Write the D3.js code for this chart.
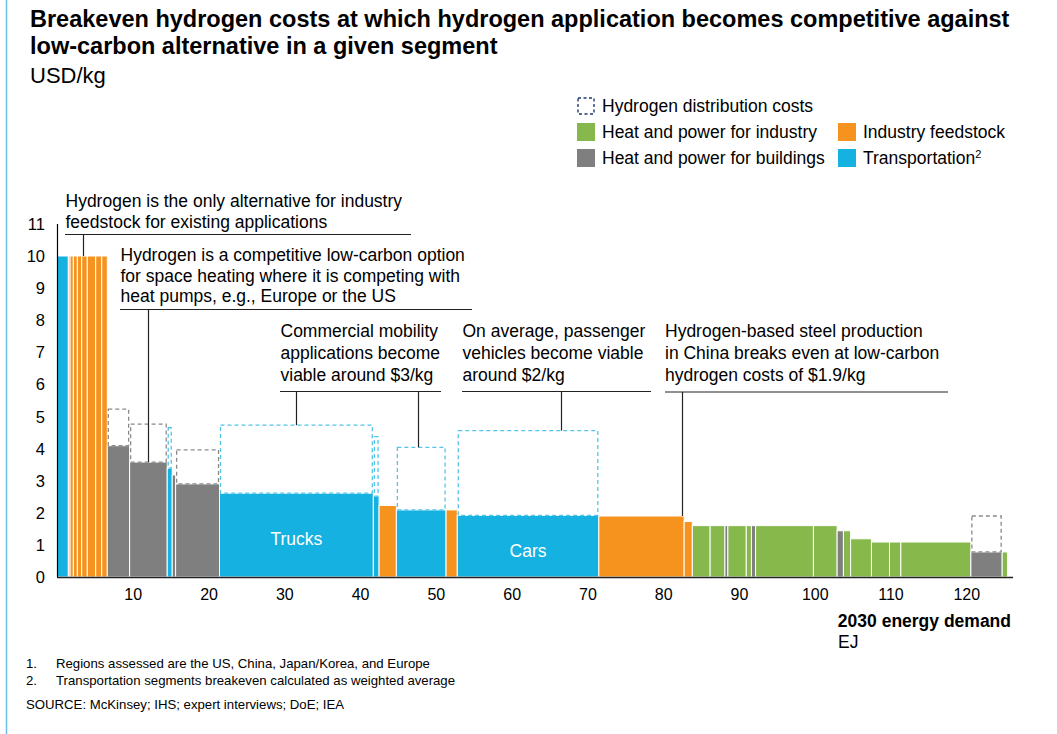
<!DOCTYPE html>
<html><head><meta charset="utf-8">
<script src="https://cdn.jsdelivr.net/npm/d3@7"></script>
<style>
html,body{margin:0;padding:0;background:#fff;}
svg{display:block;font-family:"Liberation Sans",Arial,sans-serif;}
</style></head><body>
<svg id="chart" width="1057" height="734"></svg>
<script>
// ---------- data ----------
const categories = ["Transportation", "Industry feedstock", "Heat and power for buildings", "Heat and power for industry"];
const segCategory = ["T","F","F","F","F","F","F","F","F","B","B","T","B","B","T","T","F","T","F","T","F","F","H","H","B","H","H","B","H","H","B","H","H","H","H","H","B","H"];
const segDemand   = [1.43,0.23,0.43,0.53,0.57,0.74,1.11,0.80,0.73,2.95,4.96,0.66,0.45,5.79,20.30,0.76,2.28,6.56,1.48,18.68,11.26,1.08,2.35,1.95,0.39,2.43,0.68,0.55,7.63,3.13,0.83,0.95,2.75,2.38,1.50,9.24,4.13,0.70];
const segCost     = [10,10,10,10,10,10,10,10,10,4.09,3.58,3.39,3.18,2.90,2.61,2.52,2.23,2.09,2.09,1.92,1.90,1.73,1.60,1.60,1.60,1.60,1.60,1.60,1.60,1.60,1.44,1.44,1.19,1.09,1.09,1.09,0.78,0.78];
const segWithDist = [null,null,null,null,null,null,null,null,null,5.23,4.76,4.65,null,3.96,4.73,4.37,null,4.04,null,4.56,null,null,null,null,null,null,null,null,null,null,null,null,null,null,null,null,1.90,null];
const segLabel    = {14:"Trucks", 19:"Cars"};
const yTicks = [0,1,2,3,4,5,6,7,8,9,10,11];
const xTicks = [10,20,30,40,50,60,70,80,90,100,110,120];
const legendItems = [
  {key:"D", text:"Hydrogen distribution costs"},
  {key:"H", text:"Heat and power for industry"},
  {key:"F", text:"Industry feedstock"},
  {key:"B", text:"Heat and power for buildings"},
  {key:"T", text:"Transportation", sup:"2"}
];
const annotations = [
  {lines:["Hydrogen is the only alternative for industry","feedstock for existing applications"], targets:[[3.4,10]]},
  {lines:["Hydrogen is a competitive low-carbon option","for space heating where it is competing with","heat pumps, e.g., Europe or the US"], targets:[[11.88,3.58]]},
  {lines:["Commercial mobility","applications become","viable around $3/kg"], targets:[[31.44,4.73],[47.58,4.04]]},
  {lines:["On average, passenger","vehicles become viable","around $2/kg"], targets:[[66.46,4.56]]},
  {lines:["Hydrogen-based steel production","in China breaks even at low-carbon","hydrogen costs of $1.9/kg"], targets:[[82.43,1.90]]}
];
const footnotes = ["Regions assessed are the US, China, Japan/Korea, and Europe","Transportation segments breakeven calculated as weighted average"];
const source = "SOURCE: McKinsey; IHS; expert interviews; DoE; IEA";

// ---------- style ----------
const colors = {T:"#15b1e0", F:"#f6921e", B:"#7f7f7f", H:"#86b84b"};
const dashColors = {T:"#55c3ea", B:"#8a8a8a"};
const FONT = 17.5;

const svg = d3.select("#chart");
svg.append("line").attr("x1",6.5).attr("x2",6.5).attr("y1",0).attr("y2",734).attr("stroke","#6cbfe0").attr("stroke-width",1.5);

// title
svg.append("text").attr("x",30).attr("y",27).attr("font-size",23.5).attr("font-weight","bold").attr("fill","#000")
  .text("Breakeven hydrogen costs at which hydrogen application becomes competitive against");
svg.append("text").attr("x",30).attr("y",54).attr("font-size",23.5).attr("font-weight","bold").attr("fill","#000")
  .text("low-carbon alternative in a given segment");
svg.append("text").attr("x",30).attr("y",83).attr("font-size",22).attr("fill","#000").text("USD/kg");

// scales
const x = d3.scaleLinear().domain([0,126.1]).range([57.5,1013]);
const y = d3.scaleLinear().domain([0,10]).range([577,256]);

// segments
let cum = 0;
const segs = segDemand.map((w,i)=>{ const s={i, x0:cum, x1:cum+w, cat:segCategory[i], cost:segCost[i], dist:segWithDist[i]}; cum+=w; return s; });

const g = svg.append("g");
g.selectAll("rect.bar").data(segs).join("rect").attr("class","bar")
  .attr("x",d=>x(d.x0)).attr("width",d=>x(d.x1)-x(d.x0))
  .attr("y",d=>y(d.cost)).attr("height",d=>y(0)-y(d.cost))
  .attr("fill",d=>colors[d.cat]).attr("stroke","#fff").attr("stroke-width",1);

g.selectAll("rect.dist").data(segs.filter(d=>d.dist!=null)).join("rect").attr("class","dist")
  .attr("x",d=>x(d.x0)+1).attr("width",d=>x(d.x1)-x(d.x0)-2)
  .attr("y",d=>y(d.dist)).attr("height",d=>y(d.cost)-y(d.dist))
  .attr("fill","none").attr("stroke",d=>dashColors[d.cat]).attr("stroke-width",1.3).attr("stroke-dasharray","4,3");

g.selectAll("text.seglabel").data(segs.filter(d=>segLabel[d.i])).join("text").attr("class","seglabel")
  .attr("x",d=>(x(d.x0)+x(d.x1))/2).attr("y",d=>d.i===14?545:557).attr("text-anchor","middle")
  .attr("font-size",FONT).attr("fill","#fff").text(d=>segLabel[d.i]);

// axes
svg.append("line").attr("x1",57.5).attr("x2",57.5).attr("y1",y(11)).attr("y2",577).attr("stroke","#000").attr("stroke-width",1.2);
svg.append("line").attr("x1",57).attr("x2",1013).attr("y1",577.5).attr("y2",577.5).attr("stroke","#222").attr("stroke-width",1.5);
svg.selectAll("text.yt").data(yTicks).join("text").attr("class","yt")
  .attr("x",45).attr("y",d=>y(d)+6).attr("text-anchor","end").attr("font-size",16.5).attr("fill","#000").text(d=>d);
svg.selectAll("text.xt").data(xTicks).join("text").attr("class","xt")
  .attr("x",d=>x(d)).attr("y",600).attr("text-anchor","middle").attr("font-size",16).attr("fill","#000").text(d=>d);
svg.append("text").attr("x",1011).attr("y",627).attr("text-anchor","end").attr("font-size",FONT).attr("font-weight","bold").text("2030 energy demand");
svg.append("text").attr("x",838).attr("y",648).attr("font-size",FONT).text("EJ");

// annotations layout
const annLayout = [
  {tx:65.5, ty:207, lh:20.6, ul:234.5, ux1:65, ux2:411},
  {tx:120.5, ty:261, lh:20.6, ul:309.5, ux1:120, ux2:472},
  {tx:280.5, ty:337, lh:22, ul:391.5, ux1:280, ux2:441},
  {tx:462.5, ty:337, lh:22, ul:391.5, ux1:462, ux2:651},
  {tx:665, ty:337, lh:22, ul:392, ux1:665, ux2:948}
];
annotations.forEach((a,k)=>{
  const L = annLayout[k];
  const t = svg.append("text").attr("font-size",FONT).attr("fill","#000");
  a.lines.forEach((ln,j)=> t.append("tspan").attr("x",L.tx).attr("y",L.ty+j*L.lh).text(ln));
  svg.append("line").attr("x1",L.ux1).attr("x2",L.ux2).attr("y1",L.ul).attr("y2",L.ul).attr("stroke","#222").attr("stroke-width",1.2);
  a.targets.forEach(([tx,tv])=>{
    svg.append("line").attr("x1",Math.round(x(tx))+0.5).attr("x2",Math.round(x(tx))+0.5).attr("y1",L.ul).attr("y2",y(tv))
      .attr("stroke","#222").attr("stroke-width",1.2);
  });
});

// legend
const legPos = {D:[577,97], H:[577,123], F:[838,123], B:[577,149], T:[838,149]};
legendItems.forEach(it=>{
  const [lx,ly] = legPos[it.key];
  if(it.key==="D"){
    svg.append("rect").attr("x",lx+1).attr("y",ly+1).attr("width",16).attr("height",16).attr("fill","none")
      .attr("stroke","#1f3a6e").attr("stroke-width",1.4).attr("stroke-dasharray","3,2.5");
  } else {
    svg.append("rect").attr("x",lx).attr("y",ly).attr("width",18).attr("height",18).attr("fill",colors[it.key]);
  }
  const t = svg.append("text").attr("x",lx+25).attr("y",ly+15).attr("font-size",FONT).attr("fill","#000").text(it.text);
  if(it.sup) t.append("tspan").attr("font-size",11).attr("dy",-6).text(it.sup);
});

// footnotes
footnotes.forEach((f,i)=>{
  svg.append("text").attr("x",26).attr("y",668+i*17).attr("font-size",13.2).text((i+1)+".");
  svg.append("text").attr("x",56).attr("y",668+i*17).attr("font-size",13.2).text(f);
});
svg.append("text").attr("x",26).attr("y",709).attr("font-size",13.2).text(source);
</script>
</body></html>
